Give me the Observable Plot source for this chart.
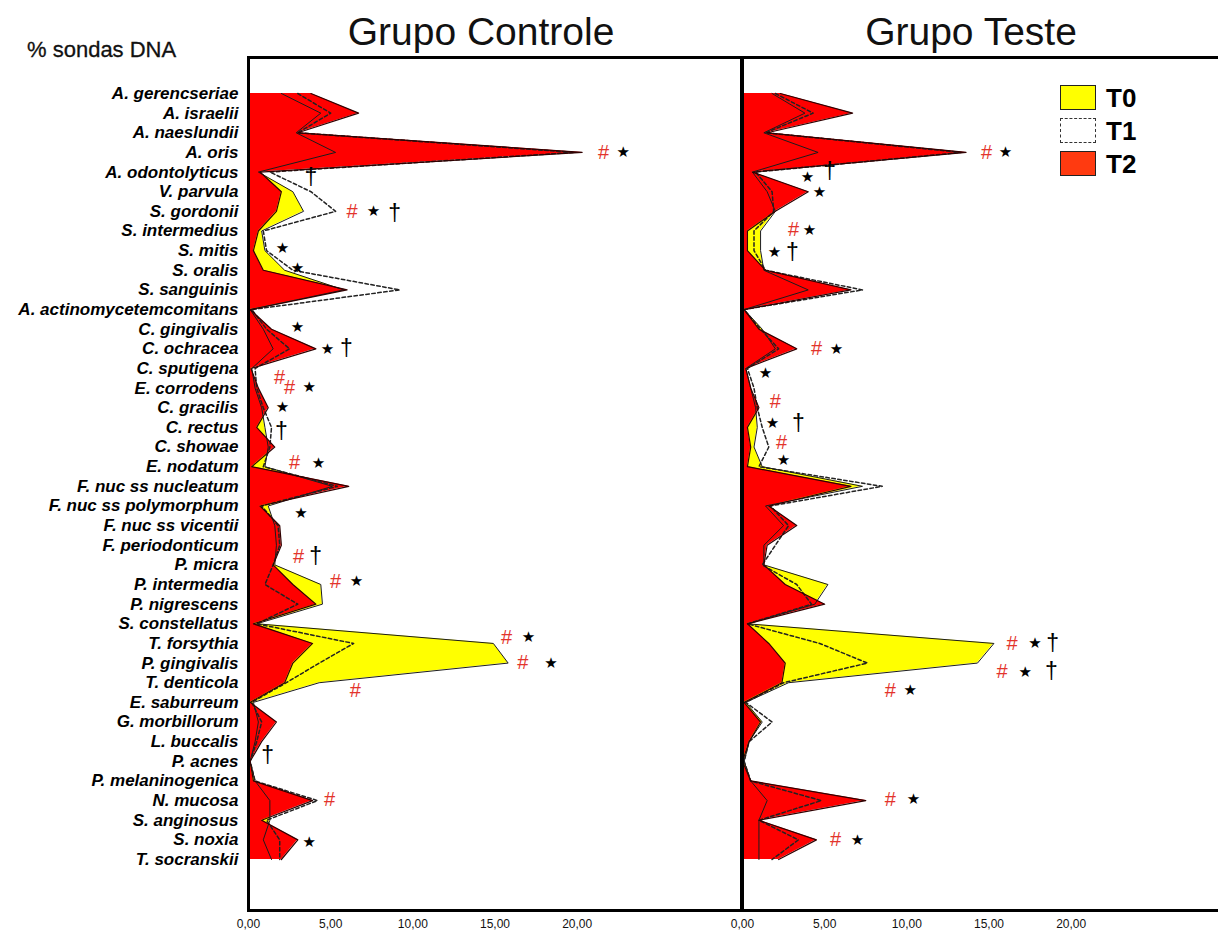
<!DOCTYPE html>
<html>
<head>
<meta charset="utf-8">
<script src="https://cdn.jsdelivr.net/npm/d3@7"></script>
<script src="https://cdn.jsdelivr.net/npm/@observablehq/plot@0.6"></script>
<style>
html, body { margin: 0; padding: 0; background: #fff; overflow: hidden; }
#wrap { position: relative; width: 1218px; height: 937px; overflow: hidden; background: #fff; font-family: "Liberation Sans", Arial, sans-serif; }
#wrap svg { position: absolute; top: 0; max-width: none !important; z-index: 1; }
.title { position: absolute; top: 10px; font-size: 39px; color: #111; white-space: nowrap; transform: translateX(-50%); line-height: 44px; z-index: 3; }
#ylab { position: absolute; left: 27px; top: 37px; font-size: 22px; color: #111; white-space: nowrap; z-index: 3; -webkit-text-stroke: 0.3px #111; }
.sw { position: absolute; left: 1060px; width: 36px; height: 25px; box-sizing: border-box; z-index: 3; }
.lg { position: absolute; left: 1106px; font-size: 26px; font-weight: bold; line-height: 26px; color: #000; z-index: 3; }
</style>
</head>
<body>
<div id="wrap">
  <div class="title" style="left:481px">Grupo Controle</div>
  <div class="title" style="left:971px">Grupo Teste</div>
  <div id="ylab">% sondas DNA</div>
</div>
<script>
// ---------------- data ----------------
const species = [
  "A. gerencseriae", "A. israelii", "A. naeslundii", "A. oris", "A. odontolyticus",
  "V. parvula", "S. gordonii", "S. intermedius", "S. mitis", "S. oralis",
  "S. sanguinis", "A. actinomycetemcomitans", "C. gingivalis", "C. ochracea", "C. sputigena",
  "E. corrodens", "C. gracilis", "C. rectus", "C. showae", "E. nodatum",
  "F. nuc ss nucleatum", "F. nuc ss polymorphum", "F. nuc ss vicentii", "F. periodonticum", "P. micra",
  "P. intermedia", "P. nigrescens", "S. constellatus", "T. forsythia", "P. gingivalis",
  "T. denticola", "E. saburreum", "G. morbillorum", "L. buccalis", "P. acnes",
  "P. melaninogenica", "N. mucosa", "S. anginosus", "S. noxia", "T. socranskii"
];

// Grupo Controle (% DNA probes)
const ctrlT0 = [2.0, 4.4, 2.9, 5.3, 0.6, 2.7, 3.35, 0.8, 1.0, 2.2,
                5.8, 0.1, 0.9, 1.5, 0.2, 0.4, 0.8, 1.0, 1.2, 1.0,
                5.1, 1.2, 1.6, 1.7, 1.6, 4.4, 4.5, 0.5, 14.9, 15.8,
                4.3, 0.3, 0.6, 0.4, 0.1, 0.4, 1.3, 1.3, 0.9, 1.4];
const ctrlT1 = [3.0, 5.0, 3.0, 19.8, 1.3, 3.8, 5.3, 0.9, 1.1, 2.7,
                9.2, 0.2, 1.1, 2.5, 0.4, 0.5, 0.9, 1.4, 1.3, 0.9,
                5.4, 0.8, 1.8, 1.9, 1.5, 1.0, 3.0, 0.5, 6.4, 4.3,
                2.3, 0.2, 0.8, 0.5, 0.1, 0.4, 4.2, 1.1, 1.9, 1.9];
const ctrlT2 = [3.8, 6.7, 3.0, 20.3, 0.7, 2.0, 1.7, 0.6, 0.3, 0.9,
                6.0, 0.1, 1.4, 4.1, 0.15, 0.6, 1.2, 0.5, 1.6, 0.2,
                6.1, 0.7, 1.9, 2.0, 1.5, 2.7, 4.1, 0.3, 3.9, 2.7,
                2.2, 0.1, 1.7, 0.8, 0.1, 0.3, 3.9, 0.8, 3.0, 2.0];

// Grupo Teste
const testT0 = [1.8, 3.8, 1.3, 4.6, 0.6, 1.5, 2.0, 1.1, 1.1, 1.3,
                4.0, 0.1, 1.2, 2.0, 0.2, 0.5, 0.8, 0.9, 0.7, 1.2,
                7.3, 1.4, 2.5, 1.3, 1.3, 5.2, 4.4, 0.3, 15.3, 14.3,
                2.8, 0.2, 1.2, 0.4, 0.1, 0.5, 1.5, 1.0, 1.0, 1.0];
const testT1 = [2.0, 4.3, 1.4, 13.3, 0.8, 1.8, 1.9, 0.7, 0.7, 1.4,
                7.3, 0.1, 1.1, 2.2, 0.3, 0.7, 0.9, 1.2, 1.6, 1.0,
                8.5, 1.7, 2.8, 2.0, 1.2, 3.3, 4.2, 0.3, 4.7, 7.6,
                2.5, 0.2, 1.8, 0.4, 0.1, 0.5, 4.8, 1.0, 3.4, 1.8];
const testT2 = [2.3, 6.7, 1.5, 13.6, 0.6, 4.0, 2.0, 0.3, 0.3, 1.4,
                6.6, 0.1, 1.0, 3.3, 0.2, 0.5, 1.0, 0.3, 0.5, 0.3,
                6.6, 1.6, 3.3, 1.5, 1.3, 2.6, 5.0, 0.3, 1.6, 2.6,
                2.4, 0.1, 1.1, 0.4, 0.0, 0.5, 7.5, 1.0, 4.5, 2.2];

// significance marks: [row (species index), value, symbol]
const ctrlMarks = [
  [3, 21.6, "#"], [3, 22.8, "★"],
  [4.3, 3.8, "†"],
  [6, 6.3, "#"], [6, 7.6, "★"], [6.1, 8.9, "†"],
  [7.9, 2.07, "★"], [8.9, 2.98, "★"], [11.9, 2.98, "★"],
  [13, 4.8, "★"], [13, 5.96, "†"],
  [14.45, 1.89, "#"], [14.96, 2.5, "#"], [14.96, 3.7, "★"],
  [15.95, 2.07, "★"], [17.2, 2.0, "†"],
  [18.8, 2.8, "#"], [18.8, 4.26, "★"],
  [21.35, 3.2, "★"],
  [23.6, 3.04, "#"], [23.6, 4.08, "†"],
  [24.85, 5.3, "#"], [24.85, 6.57, "★"],
  [27.7, 15.7, "#"], [27.7, 17.04, "★"],
  [29.0, 16.7, "#"], [29.0, 18.4, "★"],
  [30.4, 6.5, "#"],
  [33.7, 1.16, "†"],
  [35.95, 4.93, "#"],
  [38.1, 3.7, "★"]
];
const testMarks = [
  [3, 14.85, "#"], [3, 16.0, "★"],
  [4.26, 3.96, "★"], [4.0, 5.3, "†"], [5.0, 4.69, "★"],
  [6.95, 3.1, "#"], [6.95, 4.08, "★"],
  [8.1, 1.95, "★"], [8.1, 3.04, "†"],
  [13, 4.5, "#"], [13, 5.72, "★"],
  [14.25, 1.4, "★"], [15.7, 2.0, "#"],
  [16.8, 1.83, "★"], [16.8, 3.4, "†"],
  [17.75, 2.37, "#"], [18.65, 2.5, "★"],
  [28.0, 16.4, "#"], [28.0, 17.8, "★"], [28.0, 18.87, "†"],
  [29.45, 15.8, "#"], [29.45, 17.2, "★"], [29.45, 18.8, "†"],
  [30.4, 9.0, "#"], [30.4, 10.2, "★"],
  [35.95, 9.0, "#"], [35.95, 10.4, "★"],
  [38.0, 5.66, "#"], [38.0, 7.0, "★"]
];

const xTicks = [0, 5, 10, 15, 20];
const legendItems = ["T0", "T1", "T2"];

// ---------------- drawing ----------------
const fmt = d => d.toFixed(2).replace(".", ",");

function panel({t0, t1, t2, marks, withY, width, marginLeft, marginRight, background}) {
  const rows = arr => species.map((s, i) => ({i, v: arr[i]}));
  const d0 = rows(t0), d1 = rows(t1), d2 = rows(t2);
  const ann = marks.map(([r, x, s]) => ({r, x, s}));
  const plotW = width - marginLeft - marginRight;
  return Plot.plot({
    width, height: 937,
    marginTop: 57, marginBottom: 27, marginLeft, marginRight,
    style: {background, maxWidth: "none", overflow: "hidden"},
    x: {domain: [0, 30], range: [marginLeft, marginLeft + plotW], ticks: xTicks, tickFormat: fmt,
        tickSize: 0, tickPadding: 9, label: null},
    y: {domain: [0, 39], range: [93, 859], ticks: d3.range(species.length), tickFormat: i => species[i],
        tickSize: 0, tickPadding: 10, label: null, axis: withY ? "left" : null},
    marks: [
      Plot.areaX(d0, {x: "v", y: "i", fill: "#ffff00"}),
      Plot.areaX(d2, {x: "v", y: "i", fill: "#ff0000"}),
      Plot.lineX(d0, {x: "v", y: "i", stroke: "#1c1c1c", strokeWidth: 1}),
      Plot.lineX(d1, {x: "v", y: "i", stroke: "#222", strokeWidth: 1.5, strokeDasharray: "3.5,2.5"}),
      Plot.lineX(d2, {x: "v", y: "i", stroke: "#300000", strokeWidth: 1.2}),
      Plot.text(ann.filter(d => d.s === "#"), {x: "x", y: "r", text: "s", fill: "#e3342c",
        fontSize: 20, fontFamily: "Liberation Sans, Arial, sans-serif"}),
      Plot.text(ann.filter(d => d.s === "★"), {x: "x", y: "r", text: "s", fill: "#000",
        fontSize: 15, fontFamily: "DejaVu Sans, sans-serif"}),
      Plot.text(ann.filter(d => d.s === "†"), {x: "x", y: "r", text: "s", fill: "#000",
        fontSize: 23, fontFamily: "Liberation Sans, Arial, sans-serif"}),
      Plot.frame({stroke: "#000", strokeWidth: 3})
    ]
  });
}

const wrap = document.getElementById("wrap");

const left = panel({t0: ctrlT0, t1: ctrlT1, t2: ctrlT2, marks: ctrlMarks, withY: true,
                    width: 742, marginLeft: 248, marginRight: 1, background: "white"});
const right = panel({t0: testT0, t1: testT1, t2: testT2, marks: testMarks, withY: false,
                     width: 525, marginLeft: 22, marginRight: 10, background: "transparent"});
left.style.left = "0px";
right.style.left = "720px";
wrap.appendChild(left);
wrap.appendChild(right);

for (const svg of [left, right]) {
  d3.select(svg).selectAll('[aria-label^="x-axis"] text')
    .attr("font-size", "12px")
    .attr("font-family", "'Liberation Sans', Arial, sans-serif")
    .attr("fill", "#111");
}
d3.select(left).selectAll('[aria-label^="y-axis"] text')
  .attr("font-size", "17px")
  .attr("font-weight", "bold")
  .attr("font-style", "italic")
  .attr("font-family", "'Liberation Sans', Arial, sans-serif")
  .attr("fill", "#000");

// legend
const swStyles = [
  "background:#ffff00;border:1.5px solid #222;",
  "background:#fff;border:1.5px dashed #333;",
  "background:#ff3a10;border:1.5px solid #222;"
];
legendItems.forEach((t, k) => {
  const top = 85 + k * 33;
  const sw = document.createElement("div");
  sw.className = "sw";
  sw.style.cssText = `top:${top}px;` + swStyles[k];
  wrap.appendChild(sw);
  const lb = document.createElement("div");
  lb.className = "lg";
  lb.style.top = (top) + "px";
  lb.textContent = t;
  wrap.appendChild(lb);
});
</script>
</body>
</html>
